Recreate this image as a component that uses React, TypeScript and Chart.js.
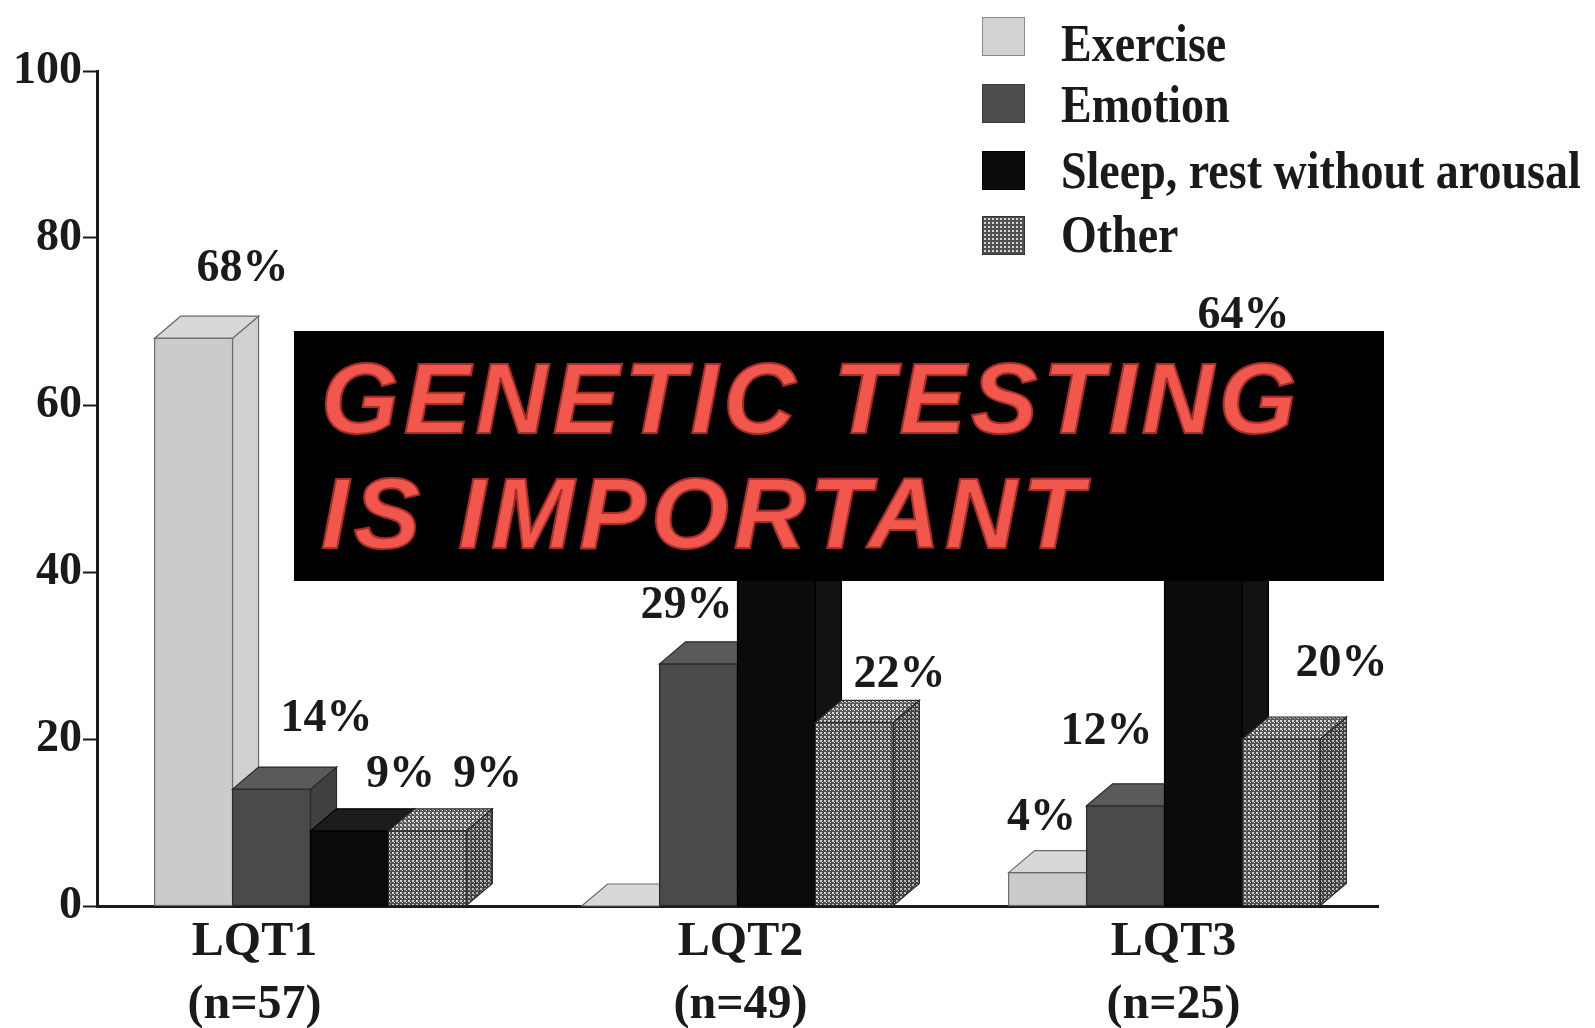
import React, { useEffect, useRef } from "react";
import { Chart, registerables } from "chart.js";

Chart.register(...registerables);

// ---- data ----
const categories = ["LQT1", "LQT2", "LQT3"];
const sampleSizes = ["(n=57)", "(n=49)", "(n=25)"];
const seriesNames = ["Exercise", "Emotion", "Sleep, rest without arousal", "Other"];
const exercise = [68, 0, 4];
const emotion = [14, 29, 12];
const sleep = [9, 49, 64];
const other = [9, 22, 20];
const yTickStep = 20;
const yMax = 100;
const overlayLines = ["GENETIC TESTING", "IS IMPORTANT"];

// ---- styling (not data) ----
const DX = 26;
const DY = 22;
const labelNudgeX = [
  [49, 0, -6],
  [55, -12, -19],
  [51, 45, 40],
  [60, 45, 60],
];
const labelNudgeY = [
  [-69, 0, -54],
  [-70, -58, -74],
  [-56, -58, -55],
  [-56, -47, -75],
];
const categoryNudgeX = [-56, 3, 9];
const INK = "#1a1a1a";
const SERIF = "'Liberation Serif', 'Times New Roman', serif";

function makePattern(ctx: CanvasRenderingContext2D, bg: string, dot: string) {
  const c = document.createElement("canvas");
  c.width = 4;
  c.height = 4;
  const g = c.getContext("2d")!;
  g.fillStyle = bg;
  g.fillRect(0, 0, 4, 4);
  g.fillStyle = dot;
  g.fillRect(0, 0, 2, 2);
  g.fillRect(2, 2, 1, 1);
  return ctx.createPattern(c, "repeat")!;
}

export default function App() {
  const canvasRef = useRef<HTMLCanvasElement | null>(null);

  useEffect(() => {
    const canvas = canvasRef.current!;
    const ctx0 = canvas.getContext("2d")!;
    const otherFront = makePattern(ctx0, "#4f4f4f", "#d2d2d2");
    const otherSide = makePattern(ctx0, "#424242", "#b8b8b8");
    const otherTop = makePattern(ctx0, "#5a5a5a", "#dcdcdc");

    const faces = [
      { front: "#cbcbcb", top: "#d8d8d8", side: "#d0d0d0", edge: "#6a6a6a" },
      { front: "#4a4a4a", top: "#5a5a5a", side: "#404040", edge: "#2a2a2a" },
      { front: "#0b0b0b", top: "#1c1c1c", side: "#121212", edge: "#000000" },
      { front: otherFront, top: otherTop, side: otherSide, edge: "#2a2a2a" },
    ];

    const seriesValues = [exercise, emotion, sleep, other];

    const bars3d = {
      id: "bars3d",
      afterDatasetsDraw(chart: any) {
        const ctx = chart.ctx as CanvasRenderingContext2D;
        const n = chart.data.labels.length;
        for (let i = 0; i < n; i++) {
          for (let d = 0; d < chart.data.datasets.length; d++) {
            const el = chart.getDatasetMeta(d).data[i];
            if (!el) continue;
            const p = el.getProps(["x", "y", "base", "width"], true);
            const l = p.x - p.width / 2;
            const r = p.x + p.width / 2;
            const y = p.y;
            const base = p.base;
            const st = faces[d];
            ctx.save();
            ctx.lineWidth = 1.2;
            ctx.strokeStyle = st.edge;
            ctx.lineJoin = "miter";
            // front face
            if (base - y > 0.5) {
              ctx.fillStyle = st.front as any;
              ctx.fillRect(l, y, r - l, base - y);
              ctx.strokeRect(l, y, r - l, base - y);
            }
            // side face
            ctx.beginPath();
            ctx.moveTo(r, y);
            ctx.lineTo(r + DX, y - DY);
            ctx.lineTo(r + DX, base - DY);
            ctx.lineTo(r, base);
            ctx.closePath();
            ctx.fillStyle = st.side as any;
            ctx.fill();
            ctx.stroke();
            // top face
            ctx.beginPath();
            ctx.moveTo(l, y);
            ctx.lineTo(l + DX, y - DY);
            ctx.lineTo(r + DX, y - DY);
            ctx.lineTo(r, y);
            ctx.closePath();
            ctx.fillStyle = st.top as any;
            ctx.fill();
            ctx.stroke();
            ctx.restore();
          }
        }
      },
      afterDraw(chart: any) {
        const ctx = chart.ctx as CanvasRenderingContext2D;
        ctx.save();
        ctx.fillStyle = INK;
        ctx.textAlign = "center";
        // value labels
        ctx.font = `bold 46px ${SERIF}`;
        ctx.textBaseline = "middle";
        for (let d = 0; d < seriesValues.length; d++) {
          const meta = chart.getDatasetMeta(d);
          seriesValues[d].forEach((v, i) => {
            if (v <= 0) return;
            const el = meta.data[i];
            const p = el.getProps(["x", "y"], true);
            ctx.fillText(`${v}%`, p.x + labelNudgeX[d][i], p.y + labelNudgeY[d][i]);
          });
        }
        // category labels
        const xs = chart.scales.x;
        ctx.font = `bold 48px ${SERIF}`;
        ctx.textBaseline = "alphabetic";
        categories.forEach((c, i) => {
          const cx = xs.getPixelForValue(i) + categoryNudgeX[i];
          ctx.fillText(c, cx, xs.top + 49);
          ctx.fillText(sampleSizes[i], cx, xs.top + 112);
        });
        ctx.restore();
      },
    };

    const chart = new Chart(canvas, {
      type: "bar",
      data: {
        labels: categories,
        datasets: seriesValues.map((vals, d) => ({
          label: seriesNames[d],
          data: vals,
          backgroundColor: "rgba(0,0,0,0)",
          borderWidth: 0,
          categoryPercentage: 0.73,
          barPercentage: 1.0,
        })),
      },
      options: {
        animation: false,
        responsive: true,
        maintainAspectRatio: false,
        layout: { padding: { left: 0, top: 71, right: 217, bottom: 0 } },
        plugins: {
          legend: { display: false },
          tooltip: { enabled: false },
          title: { display: false },
        },
        scales: {
          x: {
            type: "category",
            ticks: { display: false },
            grid: { display: false },
            border: { display: true, color: INK, width: 3 },
            afterFit: (s: any) => {
              s.height = 122;
            },
          },
          y: {
            min: 0,
            max: yMax,
            ticks: {
              stepSize: yTickStep,
              color: INK,
              padding: 1,
              font: { family: SERIF, weight: "bold", size: 46 },
            },
            grid: {
              display: true,
              drawOnChartArea: false,
              drawTicks: true,
              tickLength: 14,
              tickWidth: 2,
              tickColor: INK,
            },
            border: { display: true, color: INK, width: 3 },
            afterFit: (s: any) => {
              s.width = 97;
            },
          },
        },
      },
      plugins: [bars3d],
    } as any);

    return () => chart.destroy();
  }, []);

  const legendSwatches = [
    { background: "#d2d2d2", border: "1px solid #8a8a8a" },
    { background: "#4d4d4d", border: "1px solid #3a3a3a" },
    { background: "#0b0b0b", border: "1px solid #000" },
    {
      backgroundColor: "#505050",
      backgroundImage: "radial-gradient(circle, #d6d6d6 0.9px, transparent 1.3px)",
      backgroundSize: "4px 4px",
      border: "1px solid #333",
    },
  ];
  const swatchTops = [17, 84, 151, 216];
  const textBaselines = [61, 122, 188, 252];

  return (
    <div
      style={{
        position: "absolute",
        left: 0,
        top: 0,
        width: 1595,
        height: 1028,
        background: "#fff",
        overflow: "hidden",
      }}
    >
      <div style={{ position: "absolute", left: 0, top: 0, width: 1595, height: 1028 }}>
        <canvas ref={canvasRef} />
      </div>

      {seriesNames.map((name, i) => (
        <React.Fragment key={name}>
          <div
            style={{
              position: "absolute",
              left: 982,
              top: swatchTops[i],
              width: 43,
              height: 39,
              boxSizing: "border-box",
              ...(legendSwatches[i] as any),
            }}
          />
          <div
            style={{
              position: "absolute",
              left: 1061,
              top: textBaselines[i] - 38.5,
              font: `bold 46px ${SERIF}`,
              lineHeight: "46px",
              color: INK,
              whiteSpace: "nowrap",
              transform: "scaleY(1.15)",
              transformOrigin: "0 38.5px",
            }}
          >
            {name}
          </div>
        </React.Fragment>
      ))}

      <div
        style={{
          position: "absolute",
          left: 294,
          top: 331,
          width: 1090,
          height: 250,
          background: "#000",
        }}
      >
        {overlayLines.map((line, i) => (
          <div
            key={line}
            style={{
              position: "absolute",
              left: 27,
              top: 17 + i * 115,
              font: "italic bold 100px 'Liberation Sans', Arial, sans-serif",
              lineHeight: "100px",
              letterSpacing: "5px",
              whiteSpace: "nowrap",
              color: "#f2574d",
              WebkitTextStroke: "2px #a82e26",
              textShadow: "0 0 2px rgba(255,140,130,0.35)",
            }}
          >
            {line}
          </div>
        ))}
      </div>
    </div>
  );
}
